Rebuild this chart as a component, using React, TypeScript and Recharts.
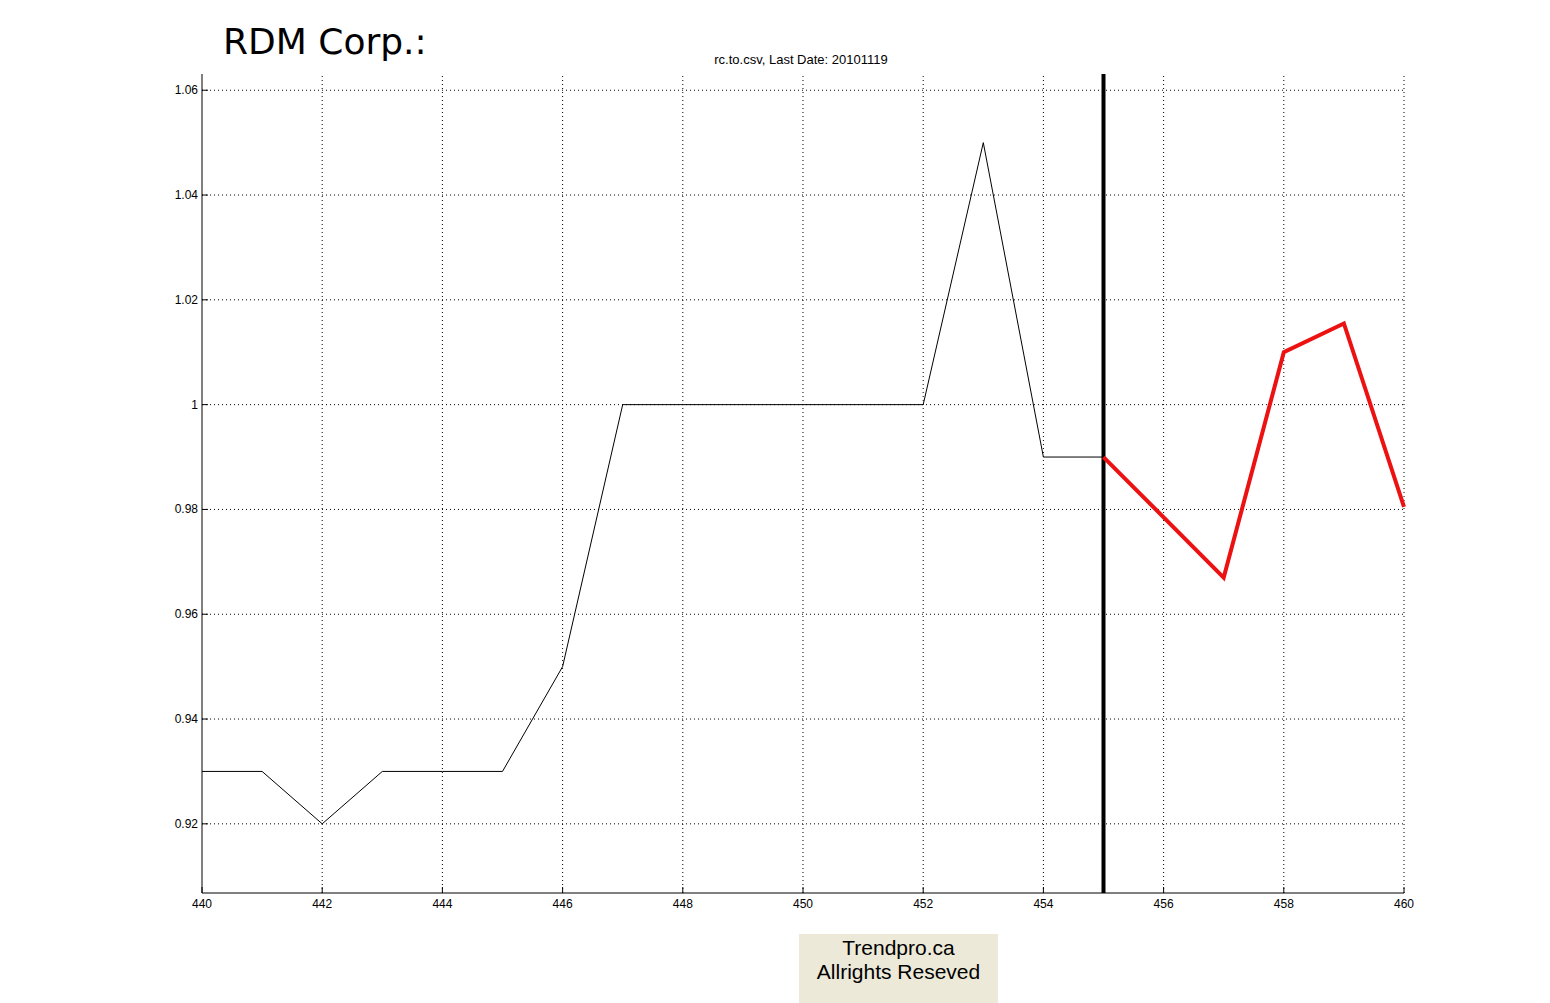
import { LineChart, Line, XAxis, YAxis, ReferenceLine } from 'recharts'

const days = [440, 441, 442, 443, 444, 445, 446, 447, 448, 449, 450, 451, 452, 453, 454, 455, 456, 457, 458, 459, 460]
const actual = [0.93, 0.93, 0.92, 0.93, 0.93, 0.93, 0.95, 1.0, 1.0, 1.0, 1.0, 1.0, 1.0, 1.05, 0.99, 0.99, null, null, null, null, null]
const forecast = [null, null, null, null, null, null, null, null, null, null, null, null, null, null, null, 0.99, null, 0.967, 1.01, 1.0155, 0.9805]
const xTicks = [440, 442, 444, 446, 448, 450, 452, 454, 456, 458, 460]
const yTicks = [0.92, 0.94, 0.96, 0.98, 1.0, 1.02, 1.04, 1.06]
const lastDay = 455

const data = days.map((d, i) => ({ day: d, actual: actual[i], forecast: forecast[i] }))

const tickFont = { fontFamily: 'Liberation Sans, Arial, sans-serif', fontSize: 12, fill: '#000' }

function YTick(props: any) {
  const { x, y, payload } = props
  const label = payload.value === 1 ? '1' : String(payload.value.toFixed(2))
  return (
    <g>
      <line x1={x} x2={x + 6} y1={y} y2={y} stroke="#000" />
      <text x={x - 4} y={y} dy={4} textAnchor="end" {...tickFont}>{label}</text>
    </g>
  )
}

function XTick(props: any) {
  const { x, y, payload } = props
  return (
    <g>
      <line x1={x} x2={x} y1={y} y2={y - 6} stroke="#000" />
      <text x={x} y={y + 15} textAnchor="middle" {...tickFont}>{payload.value}</text>
    </g>
  )
}

export default function App() {
  return (
    <div style={{ position: 'absolute', left: 0, top: 0, width: 1550, height: 1003, background: '#fff' }}>
      <div style={{ position: 'absolute', left: 223, top: 21, fontFamily: 'DejaVu Sans, sans-serif', fontSize: 36, color: '#000', whiteSpace: 'nowrap' }}>
        RDM Corp.:
      </div>
      <div style={{ position: 'absolute', left: 601, width: 400, top: 52, textAlign: 'center', fontFamily: 'Liberation Sans, Arial, sans-serif', fontSize: 13, color: '#000' }}>
        rc.to.csv, Last Date: 20101119
      </div>
      <LineChart width={1550} height={1003} data={data} margin={{ top: 74, right: 146, bottom: 80, left: 142 }}>
        <XAxis
          dataKey="day"
          type="number"
          domain={[440, 460]}
          ticks={xTicks}
          height={30}
          axisLine={{ stroke: '#000' }}
          tickLine={false}
          tickSize={0}
          tickMargin={0}
          tick={<XTick />}
          interval={0}
        />
        <YAxis
          type="number"
          domain={[0.9068, 1.0631]}
          ticks={yTicks}
          width={60}
          axisLine={{ stroke: '#000' }}
          tickLine={false}
          tickSize={0}
          tickMargin={0}
          tick={<YTick />}
          interval={0}
          allowDataOverflow
        />
        {xTicks.filter((t) => t !== 440).map((t) => (
          <ReferenceLine key={'gx' + t} x={t} stroke="#000" strokeDasharray="1 3" />
        ))}
        {yTicks.map((t) => (
          <ReferenceLine key={'gy' + t} y={t} stroke="#000" strokeDasharray="1 3" />
        ))}
        <ReferenceLine x={lastDay} stroke="#000" strokeWidth={4} />
        <Line dataKey="actual" stroke="#000" strokeWidth={1} dot={false} isAnimationActive={false} />
        <Line dataKey="forecast" stroke="#ec1212" strokeWidth={4} dot={false} connectNulls isAnimationActive={false} strokeLinejoin="miter" />
      </LineChart>
      <div style={{ position: 'absolute', left: 799, top: 934, width: 199, height: 69, background: '#ece9d8', textAlign: 'center', fontFamily: 'Liberation Sans, Arial, sans-serif', fontSize: 21, lineHeight: '24px', color: '#000', paddingTop: 2, boxSizing: 'border-box' }}>
        Trendpro.ca
        <br />
        Allrights Reseved
      </div>
    </div>
  )
}
